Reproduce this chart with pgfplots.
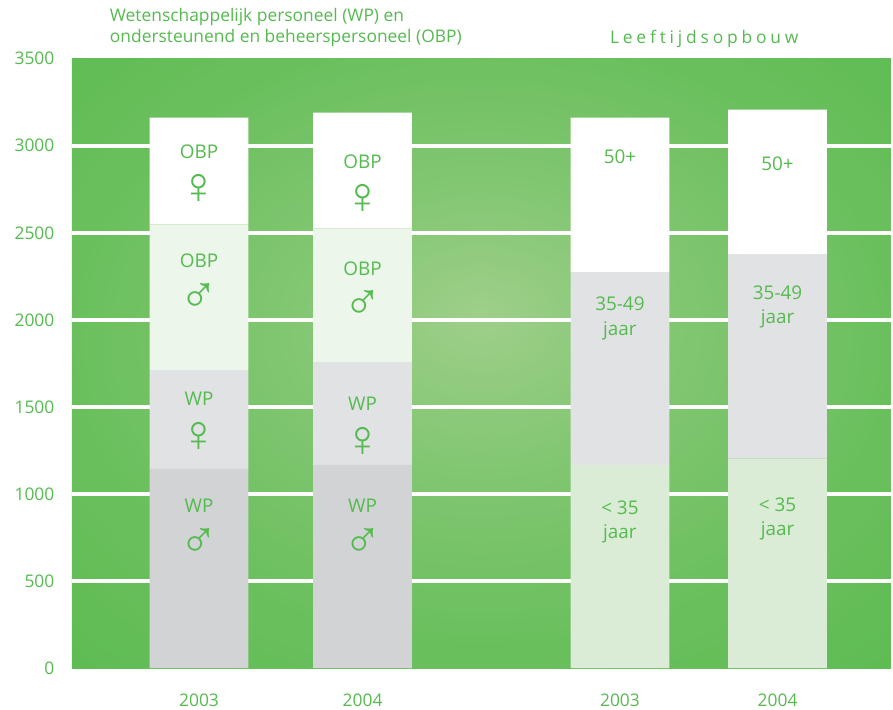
\documentclass[border=0pt]{standalone}
\usepackage{fontspec}
\setmainfont{Open Sans}
\newfontfamily\symfont{Liberation Sans}
\newfontfamily\spacedfont[LetterSpace=22]{Open Sans}
\usepackage{pgfplots}
\pgfplotsset{compat=1.18}
\definecolor{txt}{HTML}{55BA4F}
\definecolor{bgLight}{HTML}{9ECF8A}
\definecolor{bgDark}{HTML}{52B848}
\definecolor{wpm}{HTML}{D1D3D4}
\definecolor{wpf}{HTML}{E1E2E4}
\definecolor{obpm}{HTML}{EDF6EB}
\definecolor{young}{HTML}{DAECD6}
\definecolor{midgray}{HTML}{E1E2E4}
\pgfdeclareradialshading{bgshade}{\pgfpoint{0bp}{4bp}}{color(0bp)=(bgLight); color(12bp)=(bgLight!62!bgDark); color(25bp)=(bgLight!32!bgDark); color(37bp)=(bgLight!15!bgDark); color(47bp)=(bgDark); color(50bp)=(bgDark)}
\newcommand{\myLab}{\fontsize{19}{22}\selectfont}
\newcommand{\mySym}{\symfont\fontsize{52}{54}\selectfont}
\begin{document}
\begin{tikzpicture}
\begin{axis}[
  scale only axis, width=821bp, height=611bp,
  xmin=72, xmax=893, ymin=0, ymax=3500,
  clip=false,
  axis line style={draw=none},
  major tick length=0pt,
  ytick={500,1000,...,3000},
  extra y ticks={0,3500},
  extra y tick style={grid=none},
  ymajorgrids,
  grid style={white, line width=4.5bp},
  xtick={199.5,363.5,621.5,779.5},
  xticklabels={2003,2004,2003,2004},
  ticklabel style={font=\fontsize{17.5}{20}\selectfont, text=txt},
  xticklabel style={anchor=center, yshift=-32bp},
  yticklabel style={anchor=east, xshift=-14bp},
  /pgf/number format/1000 sep={},
  /pgf/number format/assume math mode=true,
  axis background/.style={shade, shading=bgshade},
  ybar stacked, bar width=99,
]
\addplot[fill=wpm, draw=none] coordinates {(199.5,1145) (363.5,1168) (621.5,0) (779.5,0)};
\addplot[fill=young, draw=none] coordinates {(199.5,0) (363.5,0) (621.5,1168) (779.5,1203)};
\addplot[fill=wpf, draw=none] coordinates {(199.5,567) (363.5,590) (621.5,0) (779.5,0)};
\addplot[fill=midgray, draw=none] coordinates {(199.5,0) (363.5,0) (621.5,1106) (779.5,1174)};
\addplot[fill=obpm, draw=none] coordinates {(199.5,837) (363.5,768) (621.5,0) (779.5,0)};
\addplot[fill=white, draw=none] coordinates {(199.5,0) (363.5,0) (621.5,888) (779.5,830)};
\addplot[fill=white, draw=none] coordinates {(199.5,613) (363.5,664) (621.5,0) (779.5,0)};

\path (axis cs:0,-234.8) rectangle (axis cs:893,3837);

\coordinate (t1) at (axis cs:110,3711);
\coordinate (t2) at (axis cs:110,3591);
\coordinate (t3) at (axis cs:706,3585);
% bar 1
\coordinate (a1) at (axis cs:199.5,2965);
\coordinate (a2) at (axis cs:199.5,2750);
\coordinate (a3) at (axis cs:199.5,2341);
\coordinate (a4) at (axis cs:199.5,2126);
\coordinate (a5) at (axis cs:199.5,1545);
\coordinate (a6) at (axis cs:199.5,1330);
\coordinate (a7) at (axis cs:199.5,932);
\coordinate (a8) at (axis cs:199.5,717);
% bar 2
\coordinate (b1) at (axis cs:363.5,2908);
\coordinate (b2) at (axis cs:363.5,2693);
\coordinate (b3) at (axis cs:363.5,2295);
\coordinate (b4) at (axis cs:363.5,2086);
\coordinate (b5) at (axis cs:363.5,1516);
\coordinate (b6) at (axis cs:363.5,1301);
\coordinate (b7) at (axis cs:363.5,932);
\coordinate (b8) at (axis cs:363.5,717);
% bar 3
\coordinate (c1) at (axis cs:621.5,2938);
\coordinate (c2) at (axis cs:621.5,2090);
\coordinate (c3) at (axis cs:621.5,1936);
\coordinate (c4) at (axis cs:621.5,922);
\coordinate (c5) at (axis cs:621.5,773);
% bar 4
\coordinate (d1) at (axis cs:779.5,2898);
\coordinate (d2) at (axis cs:779.5,2153);
\coordinate (d3) at (axis cs:779.5,2004);
\coordinate (d4) at (axis cs:779.5,939);
\coordinate (d5) at (axis cs:779.5,790);
\end{axis}
\begin{scope}[every node/.style={text=txt, inner sep=0pt}]
\node[anchor=base west, font=\fontsize{17.5}{20}\selectfont] at (t1) {Wetenschappelijk personeel (WP) en};
\node[anchor=base west, font=\fontsize{17.5}{20}\selectfont] at (t2) {ondersteunend en beheerspersoneel (OBP)};
\node[anchor=base, font=\spacedfont\fontsize{17.5}{20}\selectfont] at (t3) {Leeftijdsopbouw};

\node[font=\myLab] at (a1) {OBP};
\node[font=\mySym] at (a2) {♀};
\node[font=\myLab] at (a3) {OBP};
\node[font=\mySym] at (a4) {♂};
\node[font=\myLab] at (a5) {WP};
\node[font=\mySym] at (a6) {♀};
\node[font=\myLab] at (a7) {WP};
\node[font=\mySym] at (a8) {♂};

\node[font=\myLab] at (b1) {OBP};
\node[font=\mySym] at (b2) {♀};
\node[font=\myLab] at (b3) {OBP};
\node[font=\mySym] at (b4) {♂};
\node[font=\myLab] at (b5) {WP};
\node[font=\mySym] at (b6) {♀};
\node[font=\myLab] at (b7) {WP};
\node[font=\mySym] at (b8) {♂};

\node[font=\myLab] at (c1) {50+};
\node[font=\myLab] at (c2) {35-49};
\node[font=\myLab] at (c3) {jaar};
\node[font=\myLab] at (c4) {< 35};
\node[font=\myLab] at (c5) {jaar};

\node[font=\myLab] at (d1) {50+};
\node[font=\myLab] at (d2) {35-49};
\node[font=\myLab] at (d3) {jaar};
\node[font=\myLab] at (d4) {< 35};
\node[font=\myLab] at (d5) {jaar};
\end{scope}
\end{tikzpicture}
\end{document}
